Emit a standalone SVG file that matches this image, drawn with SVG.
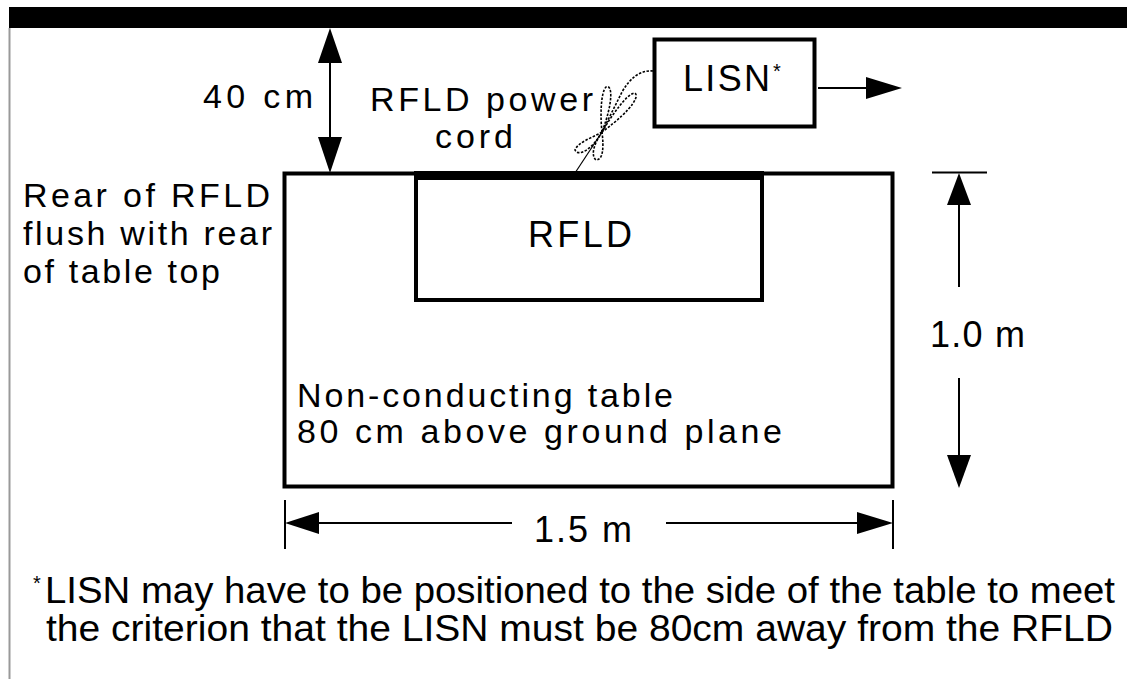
<svg xmlns="http://www.w3.org/2000/svg" width="1127" height="679" viewBox="0 0 1127 679">
<style>
text{font-family:"Liberation Sans",Arial,sans-serif;fill:#000}
.t{font-size:34px}
.b{font-size:36px}
.f{font-size:36px}
.ln{stroke:#000;stroke-width:2;fill:none}
.box{stroke:#000;stroke-width:4;fill:#fff}
.ah{fill:#000;stroke:none}
.cord{stroke:#000;stroke-width:1.6;fill:none;stroke-dasharray:2.5 1.5}
</style>
<rect x="0" y="0" width="1127" height="679" fill="#fff"/>
<rect x="9" y="7" width="1118" height="21" fill="#000"/>
<line x1="9.5" y1="28" x2="9.5" y2="679" stroke="#999" stroke-width="2"/>

<g id="table">
<rect class="box" x="284.5" y="173.5" width="608" height="313" stroke-width="4"/>
<text class="t" x="297" y="407" textLength="376" lengthAdjust="spacing">Non-conducting table</text>
<text class="t" x="297" y="443" textLength="485" lengthAdjust="spacing">80 cm above ground plane</text>
</g>

<g id="rfld">
<rect class="box" x="416" y="176" width="346" height="124"/>
<rect x="414" y="171" width="350" height="9" fill="#000"/>
<text class="b" x="528" y="247" textLength="104" lengthAdjust="spacing">RFLD</text>
</g>

<g id="lisn">
<rect class="box" x="654.5" y="39.5" width="160" height="87" stroke-width="3.5"/>
<text class="b" x="683" y="91" textLength="87" lengthAdjust="spacing">LISN</text>
<text x="773" y="78" font-size="20">*</text>
</g>

<g id="labels">
<text class="t" x="203" y="108" textLength="110" lengthAdjust="spacing">40 cm</text>
<text class="t" x="370" y="111" textLength="223" lengthAdjust="spacing">RFLD power</text>
<text class="t" x="435" y="148" textLength="78" lengthAdjust="spacing">cord</text>
<text class="t" x="23" y="207" textLength="247" lengthAdjust="spacing">Rear of RFLD</text>
<text class="t" x="23" y="245" textLength="249" lengthAdjust="spacing">flush with rear</text>
<text class="t" x="23" y="283" textLength="197" lengthAdjust="spacing">of table top</text>
<text class="b" x="930" y="347" textLength="95" lengthAdjust="spacing">1.0 m</text>
<text class="b" x="534" y="542" textLength="98" lengthAdjust="spacing">1.5 m</text>
<text x="33" y="590" font-size="20">*</text>
<text class="f" x="45" y="603" textLength="1070" lengthAdjust="spacingAndGlyphs">LISN may have to be positioned to the side of the table to meet</text>
<text class="f" x="46" y="641" textLength="1067" lengthAdjust="spacingAndGlyphs">the criterion that the LISN must be 80cm away from the RFLD</text>
</g>

<g id="connectors">
<!-- 40 cm dimension -->
<line class="ln" x1="330" y1="50" x2="330" y2="150"/>
<polygon class="ah" points="330,28 318,63 342,63"/>
<polygon class="ah" points="330,173 318,137 342,137"/>
<!-- LISN output arrow -->
<line class="ln" x1="818" y1="88" x2="868" y2="88"/>
<polygon class="ah" points="902,88 866,77 866,99"/>
<!-- 1.0 m dimension -->
<line class="ln" x1="932" y1="172.5" x2="987" y2="172.5"/>
<line class="ln" x1="959" y1="195" x2="959" y2="287"/>
<line class="ln" x1="959" y1="378" x2="959" y2="465"/>
<polygon class="ah" points="959,173 947,205 971,205"/>
<polygon class="ah" points="959,488 947,455 971,455"/>
<!-- 1.5 m dimension -->
<line class="ln" x1="285" y1="500" x2="285" y2="549"/>
<line class="ln" x1="893" y1="500" x2="893" y2="549"/>
<line class="ln" x1="300" y1="523" x2="512" y2="523"/>
<line class="ln" x1="666" y1="523" x2="875" y2="523"/>
<polygon class="ah" points="285,523 319,512 319,534"/>
<polygon class="ah" points="893,523 857,512 857,534"/>
<!-- power cord -->
<path class="cord" d="M653,71 C640,70 630,78 622,92 L602,132"/>
<line x1="602" y1="132" x2="575" y2="173" stroke="#000" stroke-width="1.2"/>
<path class="cord" d="M602,132 C600,115 601,92 606,87 C612,84 614,100 602,132"/>
<path class="cord" d="M602,132 C612,115 626,95 634,93 C640,94 635,108 602,132"/>
<path class="cord" d="M602,132 C592,138 578,142 575,150 C578,157 592,150 602,132"/>
<path class="cord" d="M602,132 C595,142 590,155 596,160 C603,160 604,148 602,132"/>
</g>
</svg>
